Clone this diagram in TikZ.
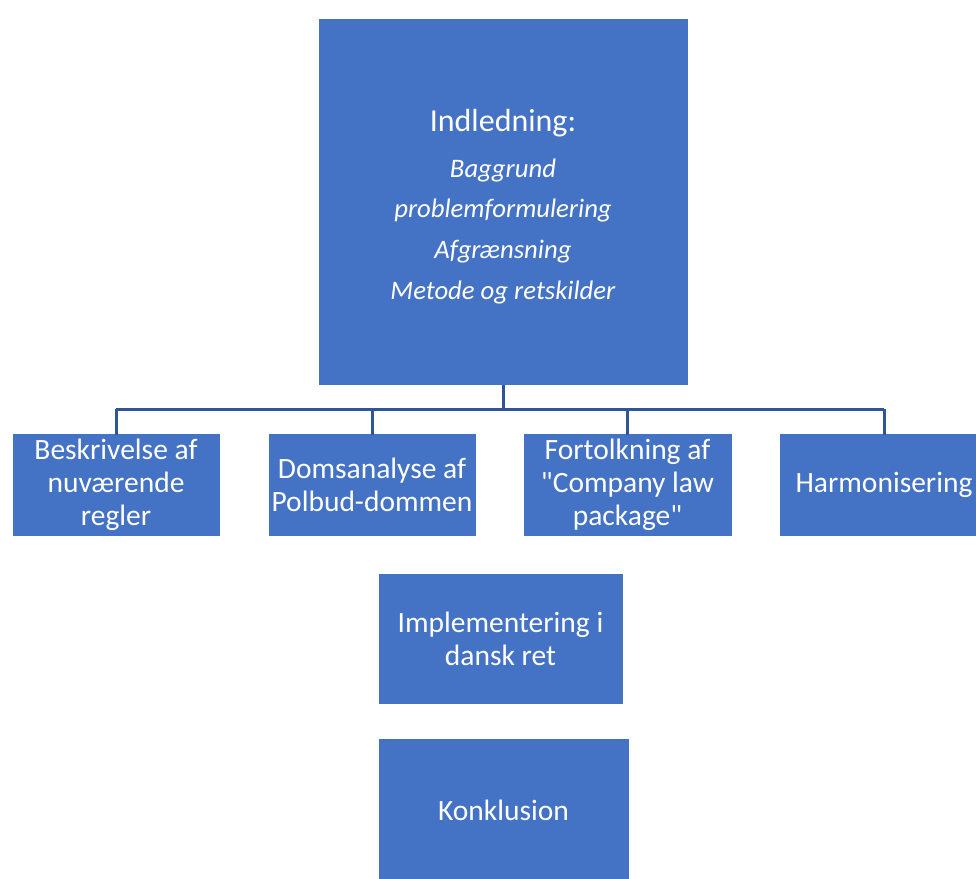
\documentclass[tikz,border=0pt]{standalone}
\usepackage{fontspec}
\setmainfont{Carlito}[Ligatures=TeXOff]
\definecolor{boxblue}{HTML}{4472C4}
\definecolor{linkblue}{HTML}{2F5597}
\begin{document}
\begin{tikzpicture}[x=1pt,y=-1pt,
  box/.style={rectangle, fill=boxblue, draw=white, line width=0.8pt, text=white, align=center, inner sep=0pt,
    font=\fontsize{29.5}{33}\selectfont},
  link/.style={draw=linkblue, line width=3pt}]
\useasboundingbox (0,0) rectangle (976,878);
\clip (0,0) rectangle (976,878);
\fill[white] (0,0) rectangle (976,878);
% top box
\node[box, minimum width=370pt, minimum height=367pt] (top) at (503,201.5) {};
\node[text=white, align=center, inner sep=0pt, font=\fontsize{26.7}{40.6}\selectfont] (toptext) at (503,206.5)
  {{\fontsize{32}{40.6}\selectfont Indledning:}\\[5pt] \textit{Baggrund}\\ \textit{problemformulering}\\ \textit{Afgrænsning}\\ \textit{Metode og retskilder}};
% children
\node[box, minimum width=208pt, minimum height=103pt] (c1) at (116,484.5) {Beskrivelse af\\nuværende\\regler};
\node[box, minimum width=208pt, minimum height=103pt] (c2) at (372,484.5) {Domsanalyse af\\Polbud-dommen};
\node[box, minimum width=209pt, minimum height=103pt] (c3) at (627.5,484.5) {Fortolkning af\\"Company law\\package"};
\node[box, minimum width=210pt, minimum height=103pt] (c4) at (884,484.5) {Harmonisering};
% lower boxes
\node[box, minimum width=245pt, minimum height=131pt] (impl) at (500.5,638.5) {Implementering i\\dansk ret};
\node[box, minimum width=251pt, minimum height=144pt] (konk) at (503.5,810) {Konklusion};
% connectors
\coordinate (bus) at (503,409);
\draw[link] (top.south) -- (bus);
\draw[link] (c1.north |- bus) -- (c4.north |- bus);
\draw[link] (c1.north |- bus) -- ([yshift=-2pt]c1.north);
\draw[link] (c2.north |- bus) -- ([yshift=-2pt]c2.north);
\draw[link] (c3.north |- bus) -- ([yshift=-2pt]c3.north);
\draw[link] (c4.north |- bus) -- ([yshift=-2pt]c4.north);
\end{tikzpicture}
\end{document}
